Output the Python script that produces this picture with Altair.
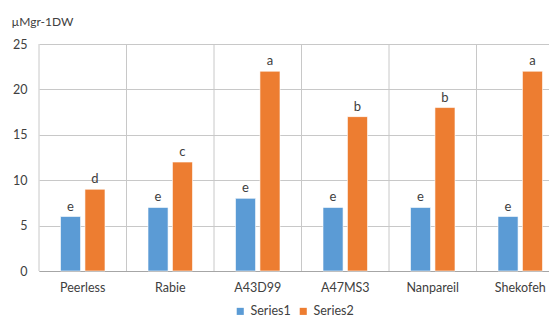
import altair as alt
import pandas as pd

categories = ["Peerless", "Rabie", "A43D99", "A47MS3", "Nanpareil", "Shekofeh"]
series_names = ["Series1", "Series2"]
series1 = [6, 7, 8, 7, 7, 6]
series2 = [9, 12, 22, 17, 18, 22]
letters1 = ["e", "e", "e", "e", "e", "e"]
letters2 = ["d", "c", "a", "b", "b", "a"]
y_ticks = [0, 5, 10, 15, 20, 25]

rows = []
for c, v1, v2, l1, l2 in zip(categories, series1, series2, letters1, letters2):
    rows.append({"cat": c, "series": "Series1", "value": v1, "letter": l1})
    rows.append({"cat": c, "series": "Series2", "value": v2, "letter": l2})
df = pd.DataFrame(rows)
cat_df = pd.DataFrame({"cat": categories})

FONT = "Lato"
GRID = "#c8c8c8"

xscale = alt.Scale(domain=categories, range=[0, 525], paddingInner=0, paddingOuter=0)
xoff_scale = alt.Scale(domain=series_names, paddingInner=0.18, paddingOuter=0.88)
yscale = alt.Scale(domain=[0, 25], nice=False)

x_axis = alt.Axis(
    title=None, labelAngle=0, ticks=False, grid=False, domain=True,
    domainColor="#a6a6a6", labelPadding=10, labelFontSize=12.5, labelFont=FONT,
    labelColor="#404040",
)

y_axis = alt.Axis(
    values=y_ticks, grid=True, gridColor=GRID, domain=False, ticks=False,
    labelPadding=12, labelFontSize=12.5, labelFont=FONT, labelColor="#404040",
    title="µMgr-1DW", titleAngle=0, titleX=-28, titleY=-23, titleAlign="left",
    titleBaseline="middle", titleFont=FONT, titleFontSize=12,
    titleFontWeight="normal", titleColor="#404040",
)

vrules = alt.Chart(cat_df).mark_rule(color=GRID, strokeWidth=1).encode(
    x=alt.X("cat:N", bandPosition=0, scale=xscale, axis=x_axis, sort=categories),
    y=alt.value(0),
    y2=alt.value(227),
)

bars = alt.Chart(df).mark_bar(stroke="white", strokeWidth=0.6).encode(
    x=alt.X("cat:N", scale=xscale, axis=x_axis, sort=categories),
    xOffset=alt.XOffset("series:N", scale=xoff_scale, sort=series_names),
    y=alt.Y("value:Q", scale=yscale, axis=y_axis),
    color=alt.Color(
        "series:N",
        scale=alt.Scale(domain=series_names, range=["#5B9BD5", "#ED7D31"]),
        legend=alt.Legend(
            title=None, orient="none", legendX=195, legendY=261,
            direction="horizontal", symbolType="square", symbolSize=50,
            labelFont=FONT, labelFontSize=12.5, labelColor="#404040",
            columnPadding=6, symbolStrokeWidth=0,
        ),
    ),
)

texts = alt.Chart(df).mark_text(
    baseline="bottom", dy=-3, font=FONT, fontSize=13, color="#404040"
).encode(
    x=alt.X("cat:N", scale=xscale, axis=x_axis, sort=categories),
    xOffset=alt.XOffset("series:N", scale=xoff_scale, sort=series_names),
    y=alt.Y("value:Q", scale=yscale, axis=y_axis),
    text="letter:N",
)

chart = alt.layer(vrules, bars, texts).properties(
    width=510, height=227,
    autosize=alt.AutoSizeParams(type="none"),
    padding={"left": 31, "top": 36, "right": 0, "bottom": 52},
).configure_view(stroke=None)

chart.save("out.html", embed_options={"renderer": "svg", "actions": False})
